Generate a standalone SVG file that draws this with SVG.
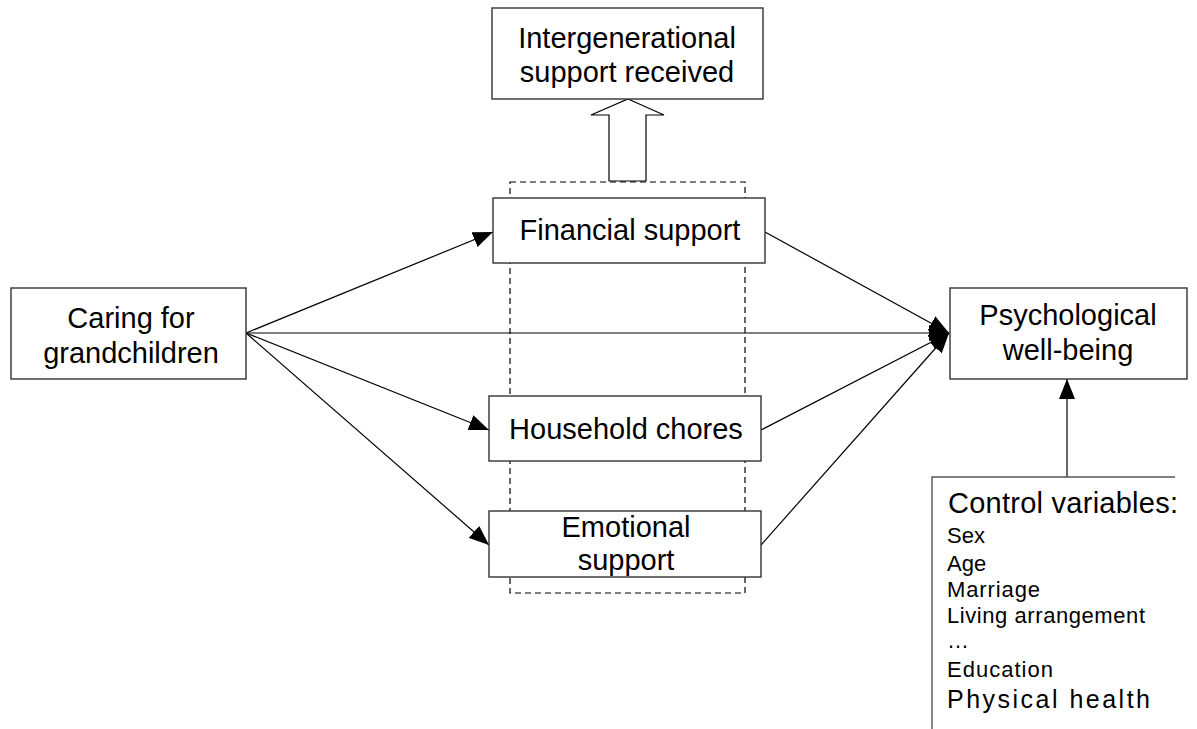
<svg xmlns="http://www.w3.org/2000/svg" width="1197" height="729" viewBox="0 0 1197 729">
<defs>
<marker id="ah" viewBox="0 0 20 16" refX="20" refY="8" markerWidth="20" markerHeight="16" markerUnits="userSpaceOnUse" orient="auto">
<path d="M0,0 L20,8 L0,16 Z" fill="#000"/>
</marker>
</defs>
<style>
.box{fill:#fff;stroke:#333;stroke-width:1.4}
.lbl{font-family:"Liberation Sans",Arial,sans-serif;font-size:29px;fill:#000;text-anchor:middle}
.item{font-family:"Liberation Sans",Arial,sans-serif;font-size:22px;fill:#000}
.edge{stroke:#000;stroke-width:1.2;fill:none;marker-end:url(#ah)}
</style>
<rect width="1197" height="729" fill="#fff"/>
<g id="group-dashed">
<rect x="510" y="182" width="235" height="411" fill="none" stroke="#000" stroke-width="1.2" stroke-dasharray="6,4"/>
</g>
<g id="connectors">
<polygon points="628,99 664,115 646,115 646,181 609,181 609,115 591,115" fill="#fff" stroke="#000" stroke-width="1.2"/>
<line class="edge" x1="246" y1="333" x2="493" y2="232"/>
<line class="edge" x1="246" y1="333" x2="949" y2="333"/>
<line class="edge" x1="246" y1="333" x2="489" y2="430"/>
<line class="edge" x1="246" y1="333" x2="489" y2="545"/>
<line class="edge" x1="765" y1="232" x2="949" y2="333"/>
<line class="edge" x1="761" y1="430" x2="949" y2="333"/>
<line class="edge" x1="761" y1="545" x2="949" y2="333"/>
<line class="edge" x1="1067" y1="477" x2="1067" y2="379"/>
</g>
<g id="intergenerational">
<rect class="box" x="492" y="8" width="271" height="91"/>
<text class="lbl" x="627" y="48">Intergenerational</text>
<text class="lbl" x="627" y="82">support received</text>
</g>
<g id="caring">
<rect class="box" x="11" y="288" width="235" height="91"/>
<text class="lbl" x="131" y="328">Caring for</text>
<text class="lbl" x="131" y="363">grandchildren</text>
</g>
<g id="financial">
<rect class="box" x="493" y="198" width="272" height="65"/>
<text class="lbl" x="630" y="240">Financial support</text>
</g>
<g id="household">
<rect class="box" x="489" y="396" width="272" height="65"/>
<text class="lbl" x="626" y="439">Household chores</text>
</g>
<g id="emotional">
<rect class="box" x="489" y="511" width="272" height="66"/>
<text class="lbl" x="626" y="537">Emotional</text>
<text class="lbl" x="626" y="570">support</text>
</g>
<g id="psychological">
<rect class="box" x="950" y="288" width="237" height="91"/>
<text class="lbl" x="1068" y="325">Psychological</text>
<text class="lbl" x="1068" y="360">well-being</text>
</g>
<g id="control">
<path d="M932,729 V477 H1175" fill="none" stroke="#555" stroke-width="1.4"/>
<text class="lbl" x="948" y="513" style="text-anchor:start" textLength="230" lengthAdjust="spacing">Control variables:</text>
<text class="item" x="947" y="543">Sex</text>
<text class="item" x="947" y="571">Age</text>
<text class="item" x="947" y="597" textLength="93" lengthAdjust="spacing">Marriage</text>
<text class="item" x="947" y="623" textLength="198" lengthAdjust="spacing">Living arrangement</text>
<text class="item" x="947" y="648">…</text>
<text class="item" x="947" y="677" textLength="106" lengthAdjust="spacing">Education</text>
<text class="item" x="947" y="708" style="font-size:25px" textLength="203" lengthAdjust="spacing">Physical health</text>
</g>
</svg>
